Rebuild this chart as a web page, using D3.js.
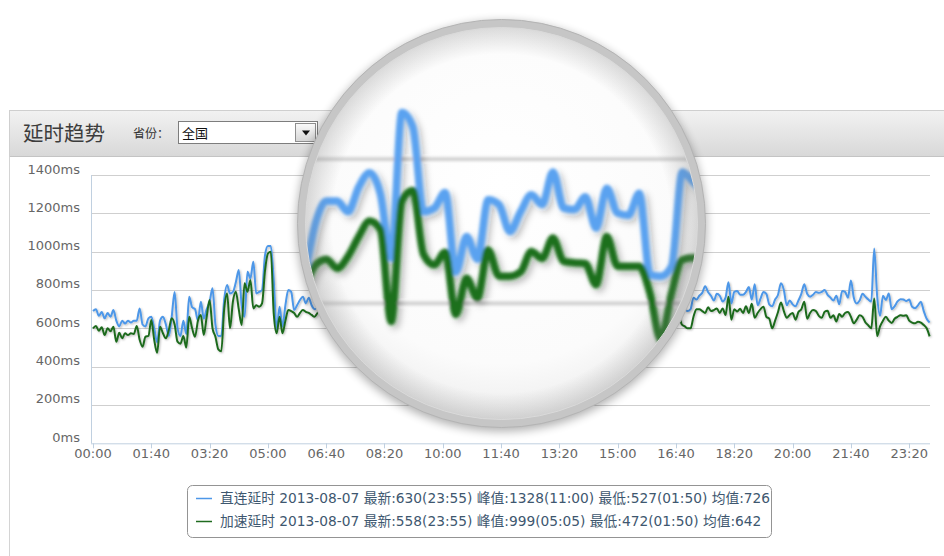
<!DOCTYPE html>
<html><head><meta charset="utf-8">
<script src="https://cdn.jsdelivr.net/npm/d3@7/dist/d3.min.js"></script>
<style>body{margin:0;background:#fff;overflow:hidden}svg{display:block}</style>
</head><body>
<svg id="chart" width="944" height="556"></svg>
<script>
// ---------- data ----------
const xTickLabels = ["00:00","01:40","03:20","05:00","06:40","08:20","10:00","11:40","13:20","15:00","16:40","18:20","20:00","21:40","23:20"];
const yTickValues = [0,200,400,600,800,1000,1200,1400];
const seriesNames = ["直连延时","加速延时"];
const seriesColors = ["#4d97e8","#1f6b1f"];
const legendTexts = [
  "直连延时 2013-08-07 最新:630(23:55) 峰值:1328(11:00) 最低:527(01:50) 均值:726",
  "加速延时 2013-08-07 最新:558(23:55) 峰值:999(05:05) 最低:472(01:50) 均值:642"
];
const panelTitle = "延时趋势";
const provinceLabel = "省份：";
const provinceValue = "全国";
// sample times in minutes (every 5 minutes, 00:00 .. 23:55)
const sampleMinutes = d3.range(0, 1440, 5);
// 直连延时 (ms)
const directMs = [
 690,700,665,685,652,680,660,695,640,610, 640,625,640,630,640,640,704,620,610,652,
 660,600,527,640,660,620,560,660,790,600, 560,640,570,765,710,700,640,739,650,700,
 739,809,620,560,560,750,826,782,790,840, 904,720,660,895,860,947,782,790,800,980,
 1030,1030,852,591,713,608,720,800,790,695, 720,748,765,730,760,720,700,
 710,740,780,760,820,870,840,900,950,920, 980,1040,1010,1060,1100,1070,1120,1150,1090,1130,
 1160,1120,1100,1140,1180,1130,1150,1170,1120,1090, 1140,1160,1130,1110,1150,1170,1140,1100,1120,1150,
 1130,1080,1110,1060,1030,1000,
 1040,1110,1140,1140,1125,1160,1180,1150,1060,1265, 1245,1125,1130,1152,1040,1090,1058,1142,1135,1097,
 1125,1149,1135,1181,1130,1128,1146,1102,1158,1123, 1120,1151,1036,1034,1048,1181,1167,
 1150,1120,1160,1130,1100,1140,1110,1080,1120,1090, 1060,1100,1050,1020,1060,1000,980,1010,960,930,
 970,920,900,930,880,860,890,840,820,850, 800,790,820,780,760,790,750,740,770,730, 720,750,710,700,690,
 700,760,750,770,785,820,790,770,745,780, 770,740,760,840,730,790,795,775,775,790,
 815,750,830,720,755,790,780,725,715,750, 775,835,800,720,745,725,715,745,780,830,
 780,765,775,790,785,790,800,775,760,745, 770,725,795,790,760,850,760,730,745,780,
 765,750,740,1017,770,665,770,748,782,700, 715,740,752,750,742,750,712,705,720,739,
 690,650,630
];
// 加速延时 (ms)
const acceleratedMs = [
 600,612,587,605,565,600,585,608,530,577, 548,574,565,574,570,612,540,504,556,560,
 643,540,472,608,574,548,591,652,620,530, 520,560,500,660,600,556,640,669,565,660,
 748,600,556,490,480,700,782,600,740,791, 700,617,835,791,852,704,720,713,730,900,
 990,999,678,574,660,574,640,695,690,680, 660,680,695,686,680,670,660,
 680,700,720,700,760,800,780,830,880,860, 910,960,940,980,1020,990,1040,1060,1010,1050,
 1080,1040,1020,1060,1100,1050,1070,1090,1040,1010, 1060,1080,1050,1030,1070,1090,1060,1020,1040,1070,
 1050,1000,1030,990,1000,990,
 1020,1050,1058,1045,1062,1090,1112,1100,970,1140, 1155,1065,1050,1068,980,1031,1003,1071,1034,1034,
 1040,1069,1059,1088,1055,1053,1052,1022,1090,1048, 1048,1048,1010,944,1010,1057,1060,
 1050,1030,1070,1040,1010,1050,1020,990,1030,1000, 970,1010,960,930,970,910,890,920,870,840,
 880,830,810,840,790,770,800,750,730,760, 710,700,730,690,670,700,660,650,680,640, 630,660,620,610,600,
 600,660,700,700,690,680,710,690,695,704, 680,704,670,765,645,700,688,702,680,715,
 680,728,655,680,700,713,660,650,600,640, 685,735,690,655,670,680,645,685,700,739,
 650,680,695,690,665,655,686,692,655,668, 636,675,660,680,685,660,626,645,668,660,
 630,615,600,756,560,610,640,660,640,628, 650,660,668,665,668,640,630,626,634,630,
 617,600,558
];
const seriesValues = [directMs, acceleratedMs];

// ---------- layout ----------
const W = 944, H = 556;
const plot = {left: 91, right: 930, top: 175, bottom: 443.3};
const lens = {cx: 501.5, cy: 223.5, r: 200, srcX: 504.7, srcY: 230.9, k: 3.7};

const svg = d3.select("#chart");
const defs = svg.append("defs");

const x = d3.scaleLinear().domain([0, 1435]).range([93, 929.6]);
const y = d3.scaleLinear().domain([0, 1400]).range([plot.bottom, plot.top]);
const toMin = s => { const [h, m] = s.split(":").map(Number); return h * 60 + m; };

// gradients & filters
const hg = defs.append("linearGradient").attr("id","hdr").attr("x1",0).attr("y1",0).attr("x2",0).attr("y2",1);
hg.append("stop").attr("offset","0%").attr("stop-color","#f2f2f2");
hg.append("stop").attr("offset","100%").attr("stop-color","#d8d8d8");
const bg = defs.append("linearGradient").attr("id","btn").attr("x1",0).attr("y1",0).attr("x2",0).attr("y2",1);
bg.append("stop").attr("offset","0%").attr("stop-color","#fafafa");
bg.append("stop").attr("offset","100%").attr("stop-color","#d6d6d6");
const ls = defs.append("filter").attr("id","lineShadow").attr("x","-5%").attr("y","-20%").attr("width","110%").attr("height","140%");
ls.append("feDropShadow").attr("dx",1).attr("dy",1).attr("stdDeviation",0.8).attr("flood-color","#000").attr("flood-opacity",0.28);
const lensBlur = defs.append("filter").attr("id","lensBlur").attr("x","-10%").attr("y","-10%").attr("width","120%").attr("height","120%");
lensBlur.append("feGaussianBlur").attr("stdDeviation",1.4);
const shBlur = defs.append("filter").attr("id","lensShadow").attr("x","-20%").attr("y","-20%").attr("width","140%").attr("height","140%");
shBlur.append("feGaussianBlur").attr("stdDeviation",5);
const lg = defs.append("radialGradient").attr("id","lensFill").attr("cx","50%").attr("cy","40%").attr("r","60%");
lg.append("stop").attr("offset","0%").attr("stop-color","#ffffff");
lg.append("stop").attr("offset","75%").attr("stop-color","#fbfbfb");
lg.append("stop").attr("offset","100%").attr("stop-color","#ececec");
const ig = defs.append("radialGradient").attr("id","lensInner").attr("cx","50%").attr("cy","50%").attr("r","50%");
ig.append("stop").attr("offset","86%").attr("stop-color","#808080").attr("stop-opacity",0);
ig.append("stop").attr("offset","100%").attr("stop-color","#808080").attr("stop-opacity",0.28);
defs.append("clipPath").attr("id","lensClip").append("circle").attr("cx",lens.cx).attr("cy",lens.cy).attr("r",lens.r - 3);

// background
svg.append("rect").attr("width",W).attr("height",H).attr("fill","#fff");

// panel
svg.append("line").attr("x1",9.5).attr("x2",9.5).attr("y1",110).attr("y2",H).attr("stroke","#d4d4d4");
svg.append("rect").attr("x",9.5).attr("y",110.5).attr("width",W).attr("height",46)
  .attr("fill","url(#hdr)").attr("stroke","#cfcfcf");
svg.append("line").attr("x1",10).attr("x2",W).attr("y1",156.5).attr("y2",156.5).attr("stroke","#c4c4c4");
svg.append("text").attr("x",23).attr("y",141).attr("font-family","'Noto Sans CJK SC','Noto Sans',sans-serif")
  .attr("font-size",20.5).attr("fill","#3c3c3c").text(panelTitle);
svg.append("text").attr("x",133).attr("y",137.5).attr("font-family","'Noto Sans CJK SC',sans-serif")
  .attr("font-size",12).attr("fill","#333").text(provinceLabel);
svg.append("rect").attr("x",178.5).attr("y",121.5).attr("width",139).attr("height",22).attr("fill","#fff").attr("stroke","#7d7d7d");
svg.append("text").attr("x",182).attr("y",137.5).attr("font-family","'Noto Sans CJK SC',sans-serif")
  .attr("font-size",13).attr("fill","#111").text(provinceValue);
svg.append("rect").attr("x",295.5).attr("y",123.5).attr("width",20).attr("height",18).attr("fill","url(#btn)").attr("stroke","#8e8e8e");
svg.append("path").attr("d","M302,130.5 L310,130.5 L306,135.5 Z").attr("fill","#111");

// reusable plot drawing (gridlines + series)
function drawPlot(g, colors) {
  g.append("g").selectAll("line").data(yTickValues.filter(v => v > 0)).join("line")
    .attr("x1",plot.left).attr("x2",plot.right)
    .attr("y1",d => Math.round(y(d)) + 0.5).attr("y2",d => Math.round(y(d)) + 0.5)
    .attr("stroke","#cfcfcf").attr("stroke-width",1);
  const line = d3.line().x((d,i) => x(sampleMinutes[i])).y(d => y(d)).curve(d3.curveMonotoneX);
  g.append("g").attr("filter","url(#lineShadow)").selectAll("path").data(seriesValues).join("path")
    .attr("d", d => line(d)).attr("fill","none")
    .attr("stroke",(d,i) => colors[i]).attr("stroke-width",2).attr("stroke-linejoin","round");
}
drawPlot(svg.append("g"), seriesColors);

// axes
const font = "'DejaVu Sans','Noto Sans CJK SC',sans-serif";
svg.append("line").attr("x1",plot.left+0.5).attr("x2",plot.left+0.5).attr("y1",plot.top).attr("y2",plot.bottom).attr("stroke","#c0d0e0");
svg.append("line").attr("x1",plot.left).attr("x2",plot.right).attr("y1",plot.bottom+0.5).attr("y2",plot.bottom+0.5).attr("stroke","#c0d0e0");
svg.append("g").selectAll("text").data(yTickValues).join("text")
  .attr("x",80).attr("y",d => y(d) - 1.5).attr("text-anchor","end")
  .attr("font-family",font).attr("font-size",13).attr("fill","#666").text(d => d + "ms");
const xt = svg.append("g");
xt.selectAll("line").data(xTickLabels).join("line")
  .attr("x1",d => Math.round(x(toMin(d))) + 0.5).attr("x2",d => Math.round(x(toMin(d))) + 0.5)
  .attr("y1",plot.bottom).attr("y2",plot.bottom + 5).attr("stroke","#c0d0e0");
xt.selectAll("text").data(xTickLabels).join("text")
  .attr("x",d => x(toMin(d))).attr("y",458).attr("text-anchor","middle")
  .attr("font-family",font).attr("font-size",13).attr("fill","#666").text(d => d);

// legend
const lgd = svg.append("g");
lgd.append("rect").attr("x",187.5).attr("y",485.5).attr("width",584).attr("height",52).attr("rx",5)
  .attr("fill","#fff").attr("stroke","#949494");
legendTexts.forEach((t,i) => {
  const yy = 498.5 + i * 23;
  lgd.append("line").attr("x1",196).attr("x2",212).attr("y1",yy).attr("y2",yy)
    .attr("stroke",seriesColors[i]).attr("stroke-width",1.5);
  lgd.append("text").attr("x",220).attr("y",yy + 4.8).attr("font-family",font).attr("font-size",13.75)
    .attr("fill","#3e576f").text(t);
});

// magnifier lens
svg.append("circle").attr("cx",lens.cx).attr("cy",lens.cy + 3).attr("r",lens.r + 5)
  .attr("fill","#000").attr("opacity",0.3).attr("filter","url(#lensShadow)");
svg.append("circle").attr("cx",lens.cx).attr("cy",lens.cy).attr("r",lens.r).attr("fill","url(#lensFill)");
const lensWrap = svg.append("g").attr("clip-path","url(#lensClip)");
const lensContent = lensWrap.append("g").attr("filter","url(#lensBlur)").append("g")
  .attr("transform",`translate(${lens.cx - lens.k*lens.srcX},${lens.cy - lens.k*lens.srcY}) scale(${lens.k})`);
drawPlot(lensContent, ["#5aa2f0","#1f6f1f"]);
svg.append("circle").attr("cx",lens.cx).attr("cy",lens.cy).attr("r",lens.r - 3).attr("fill","url(#lensInner)");
svg.append("circle").attr("cx",lens.cx).attr("cy",lens.cy).attr("r",lens.r).attr("fill","none")
  .attr("stroke","#c6c6c6").attr("stroke-width",8);
svg.append("circle").attr("cx",lens.cx).attr("cy",lens.cy).attr("r",lens.r + 4).attr("fill","none")
  .attr("stroke","#b4b4b4").attr("stroke-width",1);
svg.append("circle").attr("cx",lens.cx).attr("cy",lens.cy).attr("r",lens.r - 4).attr("fill","none")
  .attr("stroke","#dadada").attr("stroke-width",1);
</script>
</body></html>
